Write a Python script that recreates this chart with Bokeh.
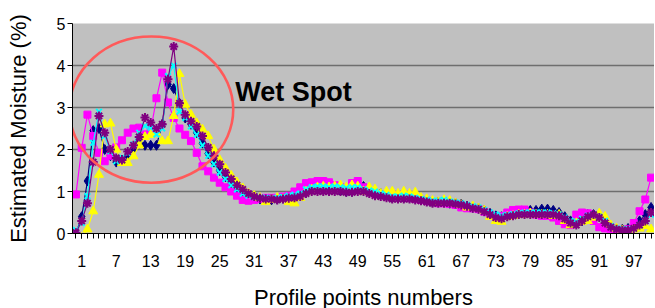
from bokeh.plotting import figure
from bokeh.models import Range1d, FixedTicker, Label
from bokeh.embed import file_html
from bokeh.resources import INLINE

points = list(range(0, 101))
tick_labels = list(range(1, 98, 6))
y_ticks = [0, 1, 2, 3, 4, 5]

navy = [0.0,0.4,1.25,2.45,2.5,2.0,1.85,1.7,1.75,1.85,
        2.0,2.15,2.1,2.1,2.1,2.6,3.55,3.45,3.1,2.75,
        2.6,2.4,2.15,1.9,1.7,1.5,1.35,1.2,1.05,0.95,
        0.88,0.85,0.82,0.8,0.8,0.82,0.84,0.85,0.87,0.9,
        0.98,1.05,1.05,1.05,1.05,1.05,1.02,1.0,1.0,1.05,
        1.12,1.05,0.98,0.95,0.9,0.85,0.85,0.85,0.85,0.83,
        0.8,0.78,0.75,0.75,0.75,0.72,0.72,0.7,0.65,0.62,
        0.6,0.55,0.48,0.42,0.4,0.42,0.45,0.48,0.5,0.55,
        0.55,0.58,0.58,0.55,0.5,0.4,0.3,0.25,0.3,0.45,
        0.45,0.42,0.3,0.15,0.1,0.1,0.12,0.18,0.3,0.45,
        0.62]
magenta = [0.93,2.04,2.83,2.32,1.92,1.72,1.85,2.05,2.22,2.4,
           2.5,2.52,2.36,2.45,3.22,3.83,3.12,2.75,2.5,2.35,
           2.2,1.92,1.6,1.48,1.33,1.21,1.1,1.0,0.9,0.8,
           0.78,0.8,0.82,0.85,0.85,0.85,0.88,0.9,1.0,1.1,
           1.2,1.22,1.25,1.25,1.22,1.15,1.1,1.05,1.2,1.25,
           1.1,1.0,0.95,0.92,0.9,0.88,0.92,0.9,0.85,0.82,
           0.8,0.78,0.75,0.72,0.72,0.7,0.68,0.62,0.6,0.6,
           0.58,0.52,0.45,0.4,0.42,0.5,0.56,0.57,0.57,0.5,
           0.45,0.42,0.42,0.38,0.3,0.22,0.2,0.45,0.5,0.48,
           0.3,0.15,0.12,0.1,0.05,0.05,0.1,0.25,0.53,0.81,
           1.33]
yellow = [-0.3,-0.1,0.1,0.53,1.4,2.6,2.62,2.0,1.68,1.68,
          1.84,2.1,2.3,2.35,2.4,2.2,2.2,2.8,3.8,3.07,
          2.83,2.63,2.48,2.32,2.0,1.75,1.55,1.38,1.22,1.08,
          0.95,0.9,0.85,0.75,0.8,0.85,0.82,0.75,0.72,0.85,
          1.0,1.05,1.1,1.12,1.1,1.12,1.15,1.1,1.15,1.12,
          1.0,1.1,1.05,0.95,1.0,1.0,0.95,1.0,0.95,0.98,
          0.85,0.82,0.78,0.75,0.8,0.78,0.72,0.68,0.62,0.65,
          0.6,0.55,0.4,0.3,0.28,0.4,0.42,0.45,0.45,0.48,
          0.45,0.45,0.45,0.42,0.45,0.3,0.2,0.25,0.28,0.3,
          0.38,0.48,0.4,0.2,0.12,0.08,0.05,0.1,0.12,0.18,
          0.1]
cyan = [0.08,0.25,0.89,2.16,2.9,2.32,1.96,1.72,1.8,1.92,
        2.12,2.4,2.56,2.52,2.36,2.5,3.75,4.0,2.9,2.75,
        2.55,2.35,2.1,1.85,1.65,1.45,1.3,1.15,1.05,0.95,
        0.9,0.87,0.85,0.85,0.83,0.85,0.87,0.9,0.92,0.95,
        1.05,1.1,1.12,1.12,1.1,1.12,1.1,1.08,1.1,1.1,
        1.05,1.02,1.0,0.95,0.92,0.88,0.88,0.9,0.88,0.85,
        0.82,0.8,0.78,0.78,0.8,0.76,0.74,0.72,0.68,0.65,
        0.62,0.56,0.5,0.45,0.42,0.44,0.46,0.48,0.5,0.5,
        0.5,0.5,0.5,0.48,0.45,0.38,0.3,0.28,0.35,0.42,
        0.45,0.4,0.3,0.18,0.12,0.1,0.1,0.12,0.2,0.3,
        0.45]
purple = [0.02,0.3,0.72,1.7,2.8,2.4,2.0,1.8,1.75,1.95,
          2.1,2.3,2.76,2.64,2.5,2.6,3.67,4.45,3.1,2.83,
          2.67,2.55,2.32,2.05,1.85,1.65,1.45,1.3,1.15,1.05,
          0.95,0.88,0.84,0.82,0.82,0.8,0.82,0.84,0.85,0.88,
          0.95,1.0,1.0,1.0,1.0,1.0,1.0,0.98,0.98,1.0,
          1.0,0.95,0.9,0.88,0.85,0.82,0.82,0.82,0.82,0.8,
          0.78,0.75,0.72,0.72,0.72,0.72,0.7,0.68,0.65,0.6,
          0.58,0.52,0.45,0.38,0.35,0.4,0.42,0.45,0.45,0.45,
          0.45,0.45,0.45,0.45,0.42,0.35,0.25,0.2,0.3,0.4,
          0.45,0.38,0.25,0.15,0.1,0.08,0.08,0.12,0.2,0.3,
          0.5]

# annotation (data units)
wet_center_x, wet_center_y = 13.1, 2.95
wet_width, wet_height = 28.5, 3.48
wet_text_x, wet_text_y = 27.7, 3.36

FONT = "Liberation Sans"

p = figure(frame_width=582, frame_height=210, output_backend="svg", toolbar_location=None,
           x_range=Range1d(-0.6, 100.6), y_range=Range1d(0, 5),
           min_border_left=72, min_border_right=0, min_border_top=23, min_border_bottom=10)
p.title.visible = False
p.background_fill_color = "#C0C0C0"
p.border_fill_color = "white"
p.outline_line_color = None

p.xgrid.grid_line_color = None
p.ygrid.grid_line_color = "#6E6E6E"
p.ygrid.grid_line_width = 1.4
p.ygrid.ticker = FixedTicker(ticks=y_ticks)

p.xaxis.ticker = FixedTicker(ticks=tick_labels, minor_ticks=points)
p.yaxis.ticker = FixedTicker(ticks=y_ticks, minor_ticks=[])
for ax in (p.xaxis, p.yaxis):
    ax.axis_line_color = "black"
    ax.axis_line_width = 1
    ax.major_tick_line_color = "black"
    ax.minor_tick_line_color = "black"
    ax.major_tick_in = 0
    ax.minor_tick_in = 0
    ax.major_tick_out = 5
    ax.major_label_text_font = FONT
    ax.major_label_text_font_size = "16px"
    ax.major_label_text_color = "black"
    ax.axis_label_text_font = FONT
    ax.axis_label_text_font_size = "22px"
    ax.axis_label_text_font_style = "normal"
    ax.axis_label_text_color = "black"
p.xaxis.minor_tick_out = 5
p.yaxis.minor_tick_out = 0
p.xaxis.major_label_standoff = 16
p.yaxis.major_label_standoff = 2
p.xaxis.axis_label = "Profile points numbers"
p.yaxis.axis_label = "Estimated Moisture (%)"
p.xaxis.axis_label_standoff = 15
p.yaxis.axis_label_standoff = 23

series = [
    (navy, "#000080", "diamond", 10, 1),
    (magenta, "#FF00FF", "square", 7, 1),
    (yellow, "#FFFF00", "triangle", 9, 1),
    (cyan, "#00FFFF", "x", 8, 2),
    (purple, "#800080", "asterisk", 9, 2),
]
for vals, col, mk, sz, lw in series:
    p.line(points, vals, line_color=col, line_width=1.2)
    p.scatter(points, vals, marker=mk, size=sz, fill_color=col, line_color=col, line_width=lw)

p.ellipse(x=[wet_center_x], y=[wet_center_y], width=[wet_width], height=[wet_height],
          fill_alpha=0, line_color="#FF5A5A", line_width=2.6)
p.add_layout(Label(x=wet_text_x, y=wet_text_y, text="Wet Spot", text_font=FONT,
                   text_font_size="27px", text_font_style="bold", text_color="black",
                   text_baseline="alphabetic"))

open("out.html", "w").write(file_html(p, INLINE))
